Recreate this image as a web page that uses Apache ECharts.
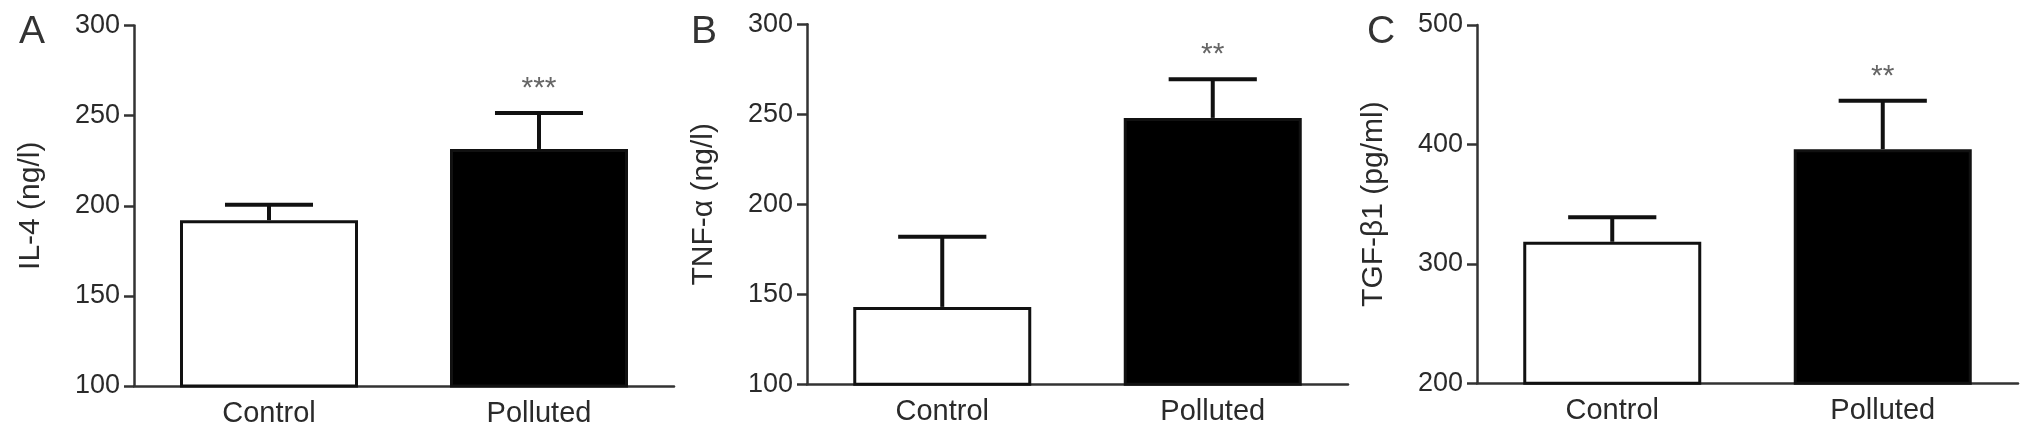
<!DOCTYPE html>
<html>
<head>
<meta charset="utf-8">
<script src="https://cdn.jsdelivr.net/npm/echarts@6/dist/echarts.min.js"></script>
<style>
  html, body { margin: 0; padding: 0; background: #fff; }
  #chart { width: 2031px; height: 437px; }
</style>
</head>
<body>
<div id="chart"></div>
<script>
// groups on the x axis
const categories = ['Control', 'Polluted']

// panel A: IL-4 (ng/l)
const il4Mean = [192, 231.5]
const il4Err = [8.5, 20]
const il4Sig = ['', '***']
const il4Axis = [100, 300, 50] // min, max, interval

// panel B: TNF-a (ng/l)
const tnfMean = [143, 248]
const tnfErr = [39, 21.5]
const tnfSig = ['', '**']
const tnfAxis = [100, 300, 50]

// panel C: TGF-b1 (pg/ml)
const tgfMean = [318.5, 396]
const tgfErr = [20.5, 40.5]
const tgfSig = ['', '**']
const tgfAxis = [200, 500, 100]

const FONT = '"Liberation Sans", Arial, sans-serif'
const barFill = ['#ffffff', '#000000']

const panels = [
  { letter: 'A', name: 'IL-4 (ng/l)', mean: il4Mean, err: il4Err, sig: il4Sig, axis: il4Axis,
    grid: { left: 134, top: 25.5, width: 540, height: 360.5 }, letterLeft: 14 },
  { letter: 'B', name: 'TNF-α (ng/l)', mean: tnfMean, err: tnfErr, sig: tnfSig, axis: tnfAxis,
    grid: { left: 807, top: 24.3, width: 541, height: 360 }, letterLeft: 686 },
  { letter: 'C', name: 'TGF-β1 (pg/ml)', mean: tgfMean, err: tgfErr, sig: tgfSig, axis: tgfAxis,
    grid: { left: 1477, top: 25, width: 541, height: 358.3 }, letterLeft: 1362 }
]

function errorSeries(p, i) {
  return {
    type: 'custom',
    xAxisIndex: i,
    yAxisIndex: i,
    z: 5,
    data: p.mean.map((m, k) => [k, m, p.err[k]]),
    renderItem: function(params, api) {
      const x = api.value(0)
      const m = api.value(1)
      const e = api.value(2)
      const base = api.coord([x, m])
      const top = api.coord([x, m + e])
      const half = api.size([1, 0])[0] * 0.163
      const line = { stroke: '#111', lineWidth: 4 }
      return {
        type: 'group',
        children: [
          { type: 'line', shape: { x1: top[0], y1: base[1], x2: top[0], y2: top[1] }, style: line },
          { type: 'line', shape: { x1: top[0] - half, y1: top[1], x2: top[0] + half, y2: top[1] }, style: line },
          {
            type: 'text',
            x: top[0],
            y: top[1] - 24,
            style: {
              text: p.sig[params.dataIndex],
              fill: '#666',
              font: '30px ' + FONT,
              align: 'center',
              verticalAlign: 'middle'
            }
          }
        ]
      }
    }
  }
}

const chart = echarts.init(document.getElementById('chart'))

const option = {
  animation: false,
  backgroundColor: '#fff',
  title: panels.map(p => ({
    text: p.letter,
    left: p.letterLeft,
    top: 8,
    textStyle: { fontSize: 39, fontWeight: 'normal', color: '#333', fontFamily: FONT }
  })),
  grid: panels.map(p => p.grid),
  xAxis: panels.map((p, i) => ({
    type: 'category',
    gridIndex: i,
    data: categories,
    axisLine: { lineStyle: { color: '#333', width: 2.5 } },
    axisTick: { alignWithLabel: true, length: 9, lineStyle: { color: '#333', width: 2.5 } },
    axisLabel: { fontSize: 29, color: '#2a2a2a', margin: 13, fontFamily: FONT }
  })),
  yAxis: panels.map((p, i) => ({
    type: 'value',
    gridIndex: i,
    min: p.axis[0],
    max: p.axis[1],
    interval: p.axis[2],
    name: p.name,
    nameLocation: 'middle',
    nameRotate: 90,
    nameGap: 88,
    nameTextStyle: { fontSize: 30, color: '#2a2a2a', fontFamily: FONT },
    splitLine: { show: false },
    axisLine: { show: true, lineStyle: { color: '#333', width: 2.5 } },
    axisTick: { show: true, length: 10, lineStyle: { color: '#333', width: 2.5 } },
    axisLabel: { fontSize: 27, color: '#2a2a2a', margin: 14, fontFamily: FONT }
  })),
  series: panels.flatMap((p, i) => [
    {
      type: 'bar',
      xAxisIndex: i,
      yAxisIndex: i,
      barWidth: 178,
      data: p.mean.map((v, k) => ({
        value: v,
        itemStyle: { color: barFill[k], borderColor: '#111', borderWidth: 3 }
      }))
    },
    errorSeries(p, i)
  ])
}

chart.setOption(option)
</script>
</body>
</html>
